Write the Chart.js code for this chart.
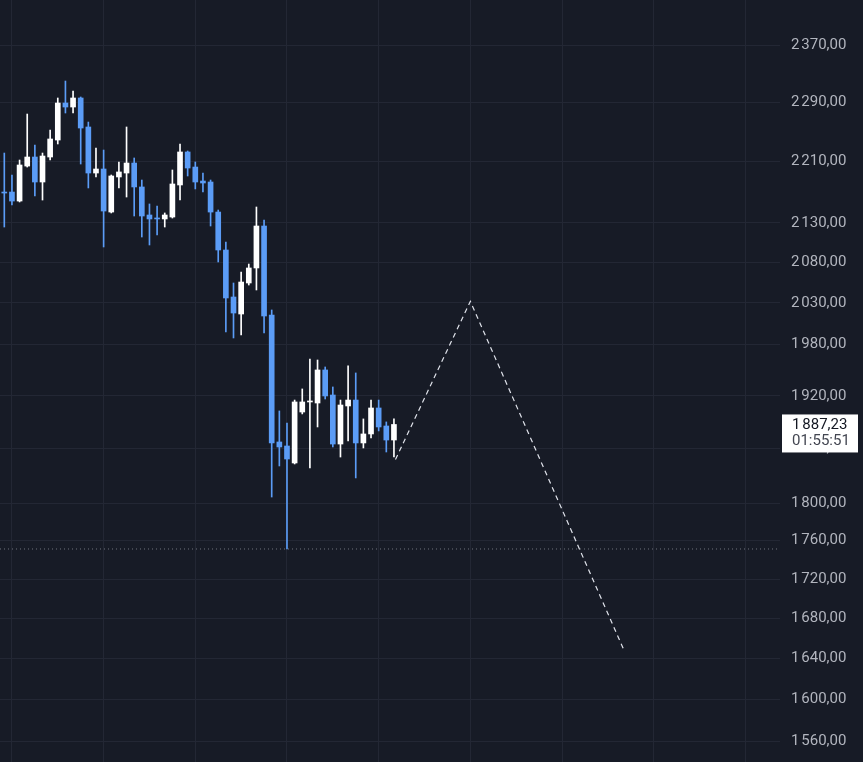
<!DOCTYPE html>
<html>
<head>
<meta charset="utf-8">
<script src="https://cdn.jsdelivr.net/npm/chart.js@4.4.1/dist/chart.umd.min.js"></script>
<style>
  html, body { margin: 0; padding: 0; background: #171b26; }
  #wrap { width: 863px; height: 762px; position: relative; }
</style>
</head>
<body>
<div id="wrap"><canvas id="chart"></canvas></div>
<script>
// OHLC per candle
const opens = [2169.8, 2169.8, 2158.1, 2203.9, 2215.9, 2182.9, 2215.9, 2238.6, 2288.9, 2283.4,
  2295.8, 2256.2, 2194.7, 2200.0, 2143.9, 2189.5, 2194.7, 2207.9, 2176.4, 2140.1,
  2136.2, 2135.0, 2137.5, 2179.0, 2222.6, 2202.6, 2184.2, 2182.9, 2143.9, 2095.6,
  2037.3, 2016.6, 2054.5, 2073.1, 2126.0, 2015.4, 1867.5, 1863.0, 1844.1, 1901.4,
  1912.9, 1911.7, 1950.0, 1920.9, 1865.2, 1908.3, 1915.1, 1866.4, 1876.5, 1906.0,
  1885.5, 1869.7];
const highs = [2221.2, 2192.1, 2211.9, 2273.8, 2231.9, 2221.2, 2252.1, 2295.8, 2319.3, 2305.5,
  2297.2, 2262.9, 2227.9, 2225.2, 2192.1, 2209.3, 2256.2, 2214.6, 2185.5, 2154.3,
  2151.7, 2142.7, 2198.7, 2233.3, 2223.9, 2209.3, 2194.7, 2185.5, 2146.5, 2105.7,
  2054.5, 2068.1, 2078.0, 2150.4, 2133.7, 2021.5, 1902.6, 1888.9, 1915.1, 1927.9,
  1962.9, 1961.7, 1953.5, 1930.2, 1915.1, 1954.7, 1946.5, 1893.5, 1915.1, 1915.1,
  1890.1, 1893.5];
const lows = [2124.7, 2153.0, 2156.9, 2202.6, 2164.6, 2159.4, 2211.9, 2233.3, 2275.2, 2275.2,
  2206.6, 2175.1, 2189.5, 2099.4, 2142.7, 2175.1, 2163.3, 2138.8, 2112.0, 2101.9,
  2114.6, 2124.7, 2136.2, 2159.4, 2190.8, 2173.8, 2169.8, 2126.0, 2080.6, 1994.9,
  1987.8, 1991.4, 2052.0, 2045.9, 1993.8, 1806.8, 1840.8, 1751.3, 1843.0, 1899.2,
  1838.6, 1884.4, 1916.3, 1861.9, 1850.7, 1868.6, 1827.6, 1860.8, 1872.0, 1879.9,
  1856.3, 1850.7];
const closes = [2168.5, 2158.1, 2205.3, 2215.9, 2182.9, 2217.2, 2240.0, 2288.9, 2283.4, 2295.8,
  2254.8, 2194.7, 2200.0, 2145.2, 2190.8, 2196.1, 2207.9, 2176.4, 2138.8, 2135.0,
  2135.0, 2140.1, 2180.3, 2222.6, 2201.3, 2182.9, 2181.6, 2143.9, 2095.6, 2036.1,
  2017.8, 2055.7, 2073.1, 2126.0, 2014.2, 1866.4, 1861.9, 1848.5, 1912.9, 1912.9,
  1914.0, 1950.0, 1919.8, 1865.2, 1909.4, 1915.1, 1866.4, 1876.5, 1906.0, 1884.4,
  1869.7, 1887.23];

// dashed projection drawn on the chart
const projX = [51.2, 61, 81];
const projY = [1848, 2032, 1650];

// price axis labels and vertical grid positions (bar index)
const priceTicks = [2370, 2290, 2210, 2130, 2080, 2030, 1980, 1920, 1860, 1800, 1760, 1720, 1680, 1640, 1600, 1560];
const timeGrid = [1, 13, 25, 37, 49, 61, 73, 85, 97];
const countdown = '01:55:51';

const UP = '#ffffff';
const DOWN = '#5b9cf6';
const xMin = -0.563, xMax = 101.53;
const yMin = 1541.1, yMax = 2434.9;

function fmt(v) {
    const parts = v.toFixed(2).split('.');
    const int = parts[0].replace(/\B(?=(\d{3})+(?!\d))/g, '\u202f');
    return int + ',' + parts[1];
}

const colors = opens.map((o, i) => closes[i] >= o ? UP : DOWN);
const lowest = Math.min(...lows);

const lastPriceLabel = {
    id: 'lastPriceLabel',
    afterDraw(chart) {
        const ctx = chart.ctx;
        const yScale = chart.scales.y;
        const price = closes[closes.length - 1];
        const py = yScale.getPixelForValue(price);
        const left = yScale.left + 2;
        ctx.save();
        ctx.fillStyle = '#ffffff';
        ctx.fillRect(left, py - 10, 76, 38);
        ctx.font = '15px Roboto';
        ctx.textBaseline = 'middle';
        ctx.fillStyle = '#131722';
        ctx.fillText(fmt(price), left + 10, py + 1);
        ctx.fillStyle = '#434651';
        ctx.fillText(countdown, left + 10, py + 17);
        ctx.restore();
    }
};

Chart.defaults.font.family = 'Roboto';
Chart.defaults.font.size = 15;

new Chart(document.getElementById('chart'), {
    type: 'bar',
    data: {
        datasets: [
            {
                type: 'line',
                data: [{ x: xMin, y: lowest }, { x: xMax, y: lowest }],
                borderColor: 'rgba(149,152,161,0.7)',
                borderWidth: 1,
                borderDash: [1, 3],
                pointRadius: 0,
                order: 4
            },
            {
                data: lows.map((l, i) => ({ x: i, y: [l, highs[i]] })),
                backgroundColor: colors,
                barThickness: 1,
                grouped: false,
                order: 3
            },
            {
                data: opens.map((o, i) => ({ x: i, y: [o, closes[i]] })),
                backgroundColor: colors,
                barThickness: 5,
                minBarLength: 1,
                grouped: false,
                order: 2
            },
            {
                type: 'line',
                data: projX.map((x, i) => ({ x: x, y: projY[i] })),
                borderColor: '#e0e3eb',
                borderWidth: 1.2,
                borderDash: [5, 4],
                pointRadius: 0,
                order: 1
            }
        ]
    },
    options: {
        responsive: true,
        maintainAspectRatio: false,
        animation: false,
        layout: { padding: 0 },
        plugins: { legend: { display: false }, tooltip: { enabled: false } },
        scales: {
            x: {
                type: 'linear',
                min: xMin,
                max: xMax,
                offset: false,
                grid: { color: '#232734', drawTicks: false, offset: false },
                border: { display: false },
                ticks: { display: false },
                afterBuildTicks: (scale) => { scale.ticks = timeGrid.map(v => ({ value: v })); },
                afterFit: (scale) => { scale.height = 0; }
            },
            y: {
                type: 'logarithmic',
                position: 'right',
                min: yMin,
                max: yMax,
                grid: { color: '#232734', drawTicks: false },
                border: { display: false },
                ticks: {
                    color: '#b2b5be',
                    padding: 11,
                    autoSkip: false,
                    callback: (v) => fmt(v)
                },
                afterBuildTicks: (scale) => { scale.ticks = priceTicks.map(v => ({ value: v })); },
                afterFit: (scale) => {
                    scale.width = 83;
                    scale.paddingTop = 0;
                    scale.paddingBottom = 0;
                }
            }
        }
    },
    plugins: [lastPriceLabel]
});
</script>
</body>
</html>
